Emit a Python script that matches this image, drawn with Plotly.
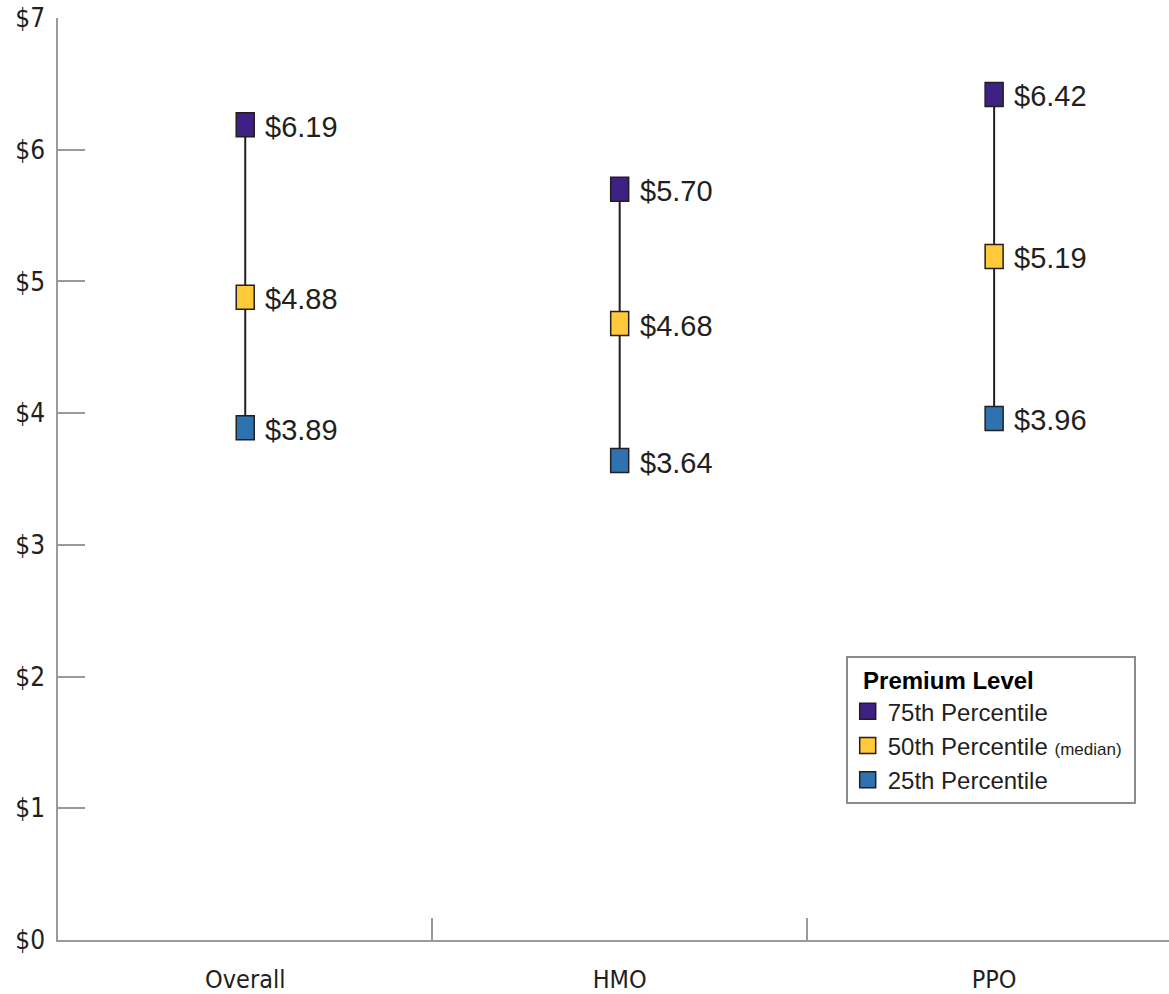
import plotly.graph_objects as go

# Plan types and premium percentiles (dollars)
plans = ["Overall", "HMO", "PPO"]
p75 = [6.19, 5.70, 6.42]
p50 = [4.88, 4.68, 5.19]
p25 = [3.89, 3.64, 3.96]

series = [
    ("75th Percentile", p75, "#3e2183"),
    ("50th Percentile <span style='font-size:17px'>(median)</span>&nbsp;", p50, "#ffc93a"),
    ("25th Percentile", p25, "#2f72b0"),
]

y_ticks = [0, 1, 2, 3, 4, 5, 6, 7]
y_ticktext = [f"${v}" for v in y_ticks]

narrow = "DejaVu Sans Condensed, Roboto, sans-serif"
sans = "Liberation Sans, Arial, Helvetica, sans-serif"
axis_grey = "#9a9a9a"
ink = "#231f20"

fig = go.Figure()

# range whiskers from 25th to 75th percentile
for name, lo, hi in zip(plans, p25, p75):
    fig.add_trace(go.Scatter(
        x=[name, name], y=[lo, hi], mode="lines",
        line=dict(color=ink, width=2), showlegend=False, hoverinfo="skip",
    ))

# legend entries
for label, vals, color in series:
    fig.add_trace(go.Scatter(
        x=[None], y=[None], mode="markers", name=label,
        marker=dict(symbol="square", size=16, color=color,
                    line=dict(color=ink, width=1.5)),
    ))

# percentile markers (pixel-sized rectangles) and value labels
for label, vals, color in series:
    for name, v in zip(plans, vals):
        fig.add_shape(
            type="rect", xref="x", yref="y",
            xsizemode="pixel", ysizemode="pixel",
            xanchor=name, yanchor=v,
            x0=-9, x1=9, y0=-12, y1=12,
            fillcolor=color, line=dict(color=ink, width=1.5),
        )
        fig.add_annotation(
            x=name, y=v, text=f"${v:.2f}", showarrow=False,
            xanchor="left", yanchor="middle", xshift=18, yshift=-2,
            font=dict(family=sans, size=29, color=ink),
        )

fig.update_layout(
    width=1169, height=994,
    margin=dict(l=58, r=0, t=18, b=54),
    paper_bgcolor="white", plot_bgcolor="white",
    showlegend=True,
    legend=dict(
        x=0.709, y=0.308, xanchor="left", yanchor="top",
        bgcolor="white", bordercolor="#8c8c8c", borderwidth=2,
        title=dict(text="&nbsp;&nbsp;<b>Premium Level</b>",
                   font=dict(family=sans, size=24, color="black")),
        font=dict(family=sans, size=24, color=ink),
        itemsizing="trace",
    ),
    xaxis=dict(
        type="category", categoryorder="array", categoryarray=plans,
        range=[-0.5, 2.467],
        showline=True, linecolor=axis_grey, linewidth=1.5,
        showgrid=False, zeroline=False,
        tickson="boundaries", ticks="inside", ticklen=22,
        tickcolor=axis_grey, tickwidth=1.5,
        tickfont=dict(family=narrow, size=25, color=ink),
        ticklabelstandoff=16,
    ),
    yaxis=dict(
        range=[0, 7], tickvals=y_ticks, ticktext=y_ticktext,
        showline=True, linecolor=axis_grey, linewidth=1.5,
        showgrid=False, zeroline=False,
        ticks="inside", ticklen=27, tickcolor=axis_grey, tickwidth=1.5,
        tickfont=dict(family=narrow, size=26, color=ink),
        ticklabelstandoff=6,
    ),
)

fig.write_html("out.html")
